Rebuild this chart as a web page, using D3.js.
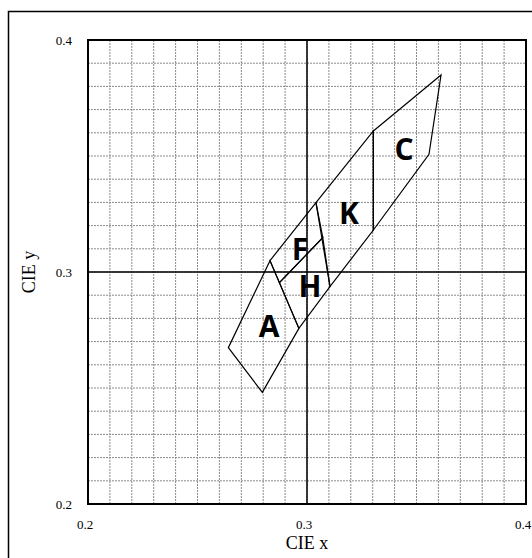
<!DOCTYPE html>
<html>
<head>
<meta charset="UTF-8">
<title>CIE quadrangles</title>
<style>
  body { margin: 0; background: #fff; }
  svg { display: block; }
</style>
</head>
<body>
<div id="chart"></div>
<script src="https://d3js.org/d3.v7.min.js"></script>
<script>
// axis ticks
var xTicks = [0.2, 0.3, 0.4];
var yTicks = [0.2, 0.3, 0.4];

// quadrangle names and corner points (CIE x, CIE y)
var regionNames = ["A", "F", "H", "K", "C"];
var regionX = [
  [0.2641, 0.2831, 0.2963, 0.2796],
  [0.2831, 0.3041, 0.3072, 0.2874],
  [0.2874, 0.3072, 0.3105, 0.2963],
  [0.3041, 0.3303, 0.3303, 0.3105],
  [0.3303, 0.3612, 0.3557, 0.3303]
];
var regionY = [
  [0.2674, 0.3049, 0.2757, 0.2481],
  [0.3049, 0.3299, 0.3148, 0.2954],
  [0.2954, 0.3148, 0.2937, 0.2757],
  [0.3299, 0.3608, 0.3181, 0.2937],
  [0.3608, 0.3849, 0.3507, 0.3181]
];
// where each letter sits
var labelX = [0.2827, 0.2968, 0.3014, 0.3192, 0.3443];
var labelY = [0.2767, 0.3099, 0.2940, 0.3254, 0.3530];

var width = 532, height = 558;
var margin = {top: 40, right: 6, bottom: 54, left: 88};

var svg = d3.select("#chart").append("svg")
  .attr("width", width)
  .attr("height", height);

// outer frame (runs past the picture on right and bottom)
svg.append("rect")
  .attr("x", 8.5).attr("y", 11.5)
  .attr("width", 560).attr("height", 600)
  .attr("fill", "none")
  .attr("stroke", "#000")
  .attr("stroke-width", 1.5);

var x = d3.scaleLinear().domain([0.2, 0.4]).range([margin.left, width - margin.right]);
var y = d3.scaleLinear().domain([0.2, 0.4]).range([height - margin.bottom, margin.top]);

// minor grid every 0.01
var minor = d3.range(21).map(function(i) { return 0.2 + i * 0.01; });
var grid = svg.append("g");
grid.selectAll(".gx").data(minor).join("line")
  .attr("x1", function(d) { return x(d); }).attr("x2", function(d) { return x(d); })
  .attr("y1", y(0.2)).attr("y2", y(0.4))
  .attr("stroke", "#8a8a8a").attr("stroke-width", 1)
  .attr("stroke-dasharray", "2,1");
grid.selectAll(".gy").data(minor).join("line")
  .attr("y1", function(d) { return y(d); }).attr("y2", function(d) { return y(d); })
  .attr("x1", x(0.2)).attr("x2", x(0.4))
  .attr("stroke", "#8a8a8a").attr("stroke-width", 1)
  .attr("stroke-dasharray", "2,1");

// major lines at 0.3
svg.append("line")
  .attr("x1", x(0.3)).attr("x2", x(0.3)).attr("y1", y(0.2)).attr("y2", y(0.4))
  .attr("stroke", "#000").attr("stroke-width", 1.5);
svg.append("line")
  .attr("y1", y(0.3)).attr("y2", y(0.3)).attr("x1", x(0.2)).attr("x2", x(0.4))
  .attr("stroke", "#000").attr("stroke-width", 1.5);

// plot border
svg.append("rect")
  .attr("x", x(0.2)).attr("y", y(0.4))
  .attr("width", x(0.4) - x(0.2)).attr("height", y(0.2) - y(0.4))
  .attr("fill", "none").attr("stroke", "#000").attr("stroke-width", 2);

// tick labels
svg.selectAll(".xl").data(xTicks).join("text")
  .attr("x", function(d) { return x(d) - 3; })
  .attr("y", 529)
  .attr("text-anchor", "middle")
  .attr("font-family", "Liberation Serif, serif")
  .attr("font-size", 13)
  .text(function(d) { return d.toFixed(1); });
svg.selectAll(".yl").data(yTicks).join("text")
  .attr("x", 72)
  .attr("y", function(d) { return y(d); })
  .attr("dy", "0.35em")
  .attr("text-anchor", "end")
  .attr("font-family", "Liberation Serif, serif")
  .attr("font-size", 13)
  .text(function(d) { return d.toFixed(1); });

// axis titles
svg.append("text")
  .attr("x", x(0.3)).attr("y", 549)
  .attr("text-anchor", "middle")
  .attr("font-family", "Liberation Serif, serif")
  .attr("font-size", 18)
  .text("CIE x");
svg.append("text")
  .attr("transform", "translate(35," + y(0.3) + ") rotate(-90)")
  .attr("text-anchor", "middle")
  .attr("font-family", "Liberation Serif, serif")
  .attr("font-size", 18)
  .text("CIE y");

// quadrangles
var line = d3.line().x(function(d) { return x(d[0]); }).y(function(d) { return y(d[1]); });
var regions = regionNames.map(function(n, i) {
  return regionX[i].map(function(v, j) { return [v, regionY[i][j]]; });
});
svg.selectAll(".quad").data(regions).join("path")
  .attr("d", function(d) { return line(d) + "Z"; })
  .attr("fill", "none")
  .attr("stroke", "#000")
  .attr("stroke-width", 1.2)
  .attr("stroke-linejoin", "miter");

svg.selectAll(".lab").data(regionNames).join("text")
  .attr("x", function(d, i) { return x(labelX[i]); })
  .attr("y", function(d, i) { return y(labelY[i]); })
  .attr("dy", "0.36em")
  .attr("text-anchor", "middle")
  .attr("font-family", "Open Sans, sans-serif")
  .attr("font-weight", "bold")
  .attr("font-size", 30)
  .text(function(d) { return d; });
</script>
</body>
</html>
